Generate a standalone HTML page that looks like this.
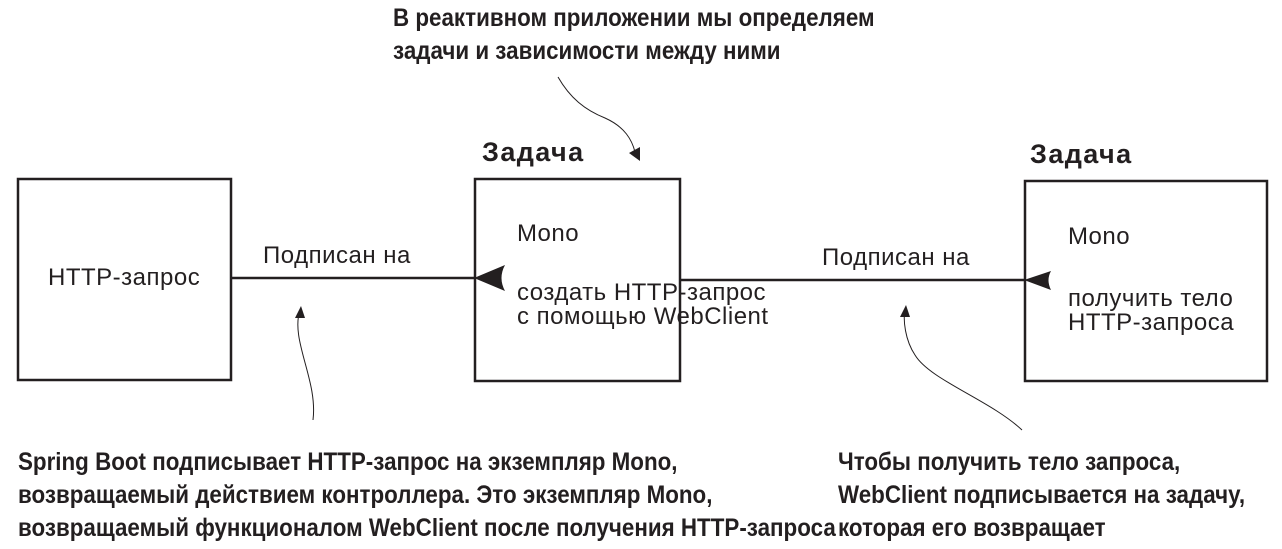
<!DOCTYPE html>
<html><head><meta charset="utf-8"><style>
body{margin:0;background:#fff;width:1282px;height:549px;overflow:hidden;position:relative;font-family:"Liberation Sans",sans-serif;color:#231f20}
.t{position:absolute;white-space:nowrap}
.n{font-weight:bold;font-size:25px;line-height:33px;transform:scaleX(0.895);transform-origin:0 0}
.r{font-size:24px;line-height:24px;letter-spacing:0.5px}
.b{font-weight:bold;font-size:27px;line-height:27px;letter-spacing:1.4px}
</style></head><body>
<svg width="1282" height="549" style="position:absolute;left:0;top:0">
<g fill="none" stroke="#231f20" stroke-width="2.5">
<rect x="18" y="179" width="213" height="201"/>
<rect x="475" y="179" width="205" height="202"/>
<rect x="1025" y="181" width="242" height="200"/>
<line x1="231" y1="278" x2="475" y2="278"/>
<line x1="680" y1="280" x2="1025" y2="280"/>
</g>
<path d="M474 278 L505 265 Q498 278 505 291 Z" fill="#231f20"/>
<path d="M1024 280 L1051 271 Q1046 280 1051 290 Z" fill="#231f20"/>
<g fill="none" stroke="#231f20" stroke-width="1">
<path d="M558 77 C570 98 585 110 605 118 C625 127 632 140 635 152"/>
<path d="M313 420 C318 380 290 340 300 310"/>
<path d="M1022 430 C990 400 930 380 915 355 C905 340 903 320 905 310"/>
</g>
<path d="M640 161 L629 153 L640 147 Z" fill="#231f20"/>
<path d="M301 306 L295 318 L305 318 Z" fill="#231f20"/>
<path d="M906 305 L900 317 L910 317 Z" fill="#231f20"/>
</svg>
<div class="t n" style="left:393px;top:2px">В реактивном приложении мы определяем<br>задачи и зависимости между ними</div>
<div class="t b" style="left:482px;top:139px">Задача</div>
<div class="t b" style="left:1030px;top:141px">Задача</div>
<div class="t r" style="left:48px;top:266px">HTTP-запрос</div>
<div class="t r" style="left:263px;top:244px">Подписан на</div>
<div class="t r" style="left:822px;top:246px">Подписан на</div>
<div class="t r" style="left:517px;top:222px">Mono</div>
<div class="t r" style="left:517px;top:281px">создать HTTP-запрос<br>с помощью WebClient</div>
<div class="t r" style="left:1068px;top:225px">Mono</div>
<div class="t r" style="left:1068px;top:287px">получить тело<br>HTTP-запроса</div>
<div class="t n" style="left:18px;top:446px">Spring Boot подписывает HTTP-запрос на экземпляр Mono,<br>возвращаемый действием контроллера. Это экземпляр Mono,<br>возвращаемый функционалом WebClient после получения HTTP-запроса</div>
<div class="t n" style="left:838px;top:446px">Чтобы получить тело запроса,<br>WebClient подписывается на задачу,<br>которая его возвращает</div>
</body></html>
